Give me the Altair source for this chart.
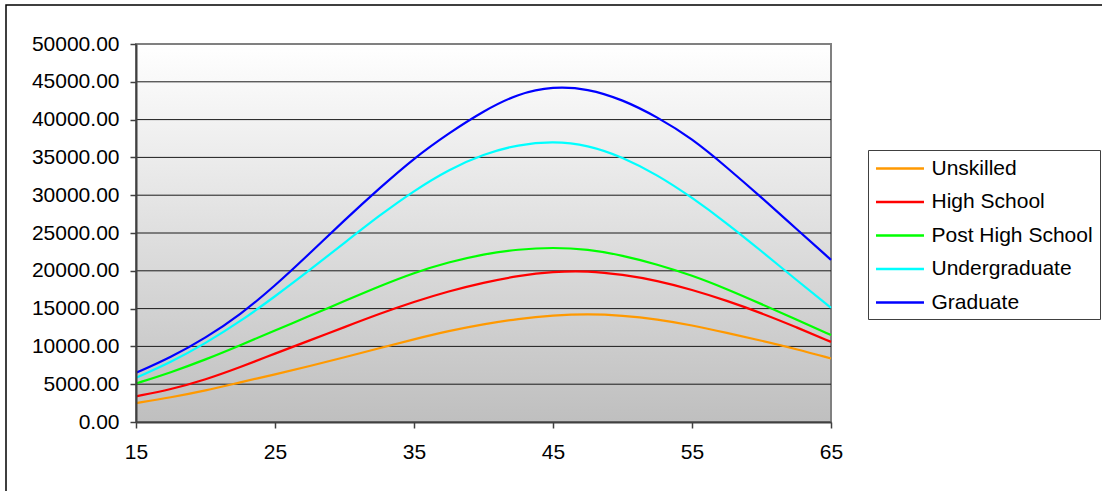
import altair as alt
import pandas as pd

ages = [15, 17.5, 20, 22.5, 25, 27.5, 30, 32.5, 35, 37.5, 40, 42.5, 45, 47.5, 50, 52.5, 55, 57.5, 60, 62.5, 65]

unskilled = [2500, 3250, 4150, 5250, 6300, 7400, 8550, 9750, 10950, 12050, 12950, 13650, 14100, 14300, 14100, 13600, 12800, 11800, 10750, 9650, 8400]
high_school = [3400, 4300, 5600, 7250, 9050, 10800, 12550, 14300, 15900, 17300, 18450, 19350, 19900, 20000, 19500, 18700, 17500, 16050, 14400, 12550, 10600]
post_high = [5100, 6550, 8250, 10150, 12100, 14050, 16000, 17950, 19750, 21150, 22200, 22850, 23100, 22850, 22050, 20850, 19400, 17600, 15600, 13550, 11500]
undergrad = [5850, 7900, 10400, 13300, 16600, 20100, 23700, 27300, 30600, 33400, 35450, 36700, 37150, 36650, 35050, 32700, 29700, 26300, 22600, 18800, 15100]
graduate = [6500, 8550, 11100, 14200, 18000, 22300, 26700, 30900, 34900, 38200, 41150, 43450, 44400, 44100, 42650, 40350, 37500, 33700, 29700, 25550, 21450]

series_names = ["Unskilled", "High School", "Post High School", "Undergraduate", "Graduate"]
series_colors = ["#FF9900", "#FF0000", "#00FF00", "#00FFFF", "#0000FF"]
series_values = [unskilled, high_school, post_high, undergrad, graduate]

x_ticks = [15, 25, 35, 45, 55, 65]
y_ticks = [0, 5000, 10000, 15000, 20000, 25000, 30000, 35000, 40000, 45000, 50000]

rows = []
for name, vals in zip(series_names, series_values):
    for a, v in zip(ages, vals):
        rows.append({"age": a, "value": v, "series": name})
df = pd.DataFrame(rows)

grid_df = pd.DataFrame({"value": y_ticks[1:-1]})
one = pd.DataFrame({"k": [0]})

FONT = "Liberation Sans"
W, H = 695, 378

xscale = alt.Scale(domain=[15, 65], nice=False, zero=False)
yscale = alt.Scale(domain=[0, 50000], nice=False, zero=False)

y_axis = alt.Axis(values=y_ticks, format=".2f", labelFontSize=21, labelFont=FONT,
                  labelColor="black", tickSize=6, tickColor="#404040", tickWidth=1.5,
                  domainColor="#404040", domainWidth=2, labelPadding=11, grid=False,
                  zindex=1)
x_axis = alt.Axis(values=x_ticks, format="d", labelFontSize=21, labelFont=FONT,
                  labelColor="black", tickSize=6, tickColor="#404040", tickWidth=1.5,
                  domainColor="#404040", domainWidth=2, labelPadding=13, grid=False,
                  zindex=1, labelFlush=False)

bg = alt.Chart(one).mark_rect(
    fill=alt.LinearGradient(
        gradient="linear",
        stops=[alt.GradientStop(offset=0, color="#ffffff"),
               alt.GradientStop(offset=1, color="#bfbfbf")],
        x1=0, x2=0, y1=0, y2=1),
    stroke="#808080", strokeWidth=2,
).encode(x=alt.value(0), x2=alt.value(W), y=alt.value(0), y2=alt.value(H))

grid = alt.Chart(grid_df).mark_rule(color="#1a1a1a", strokeWidth=1).encode(
    y=alt.Y("value:Q", scale=yscale, title=None, axis=y_axis)
)

lines = alt.Chart(df).mark_line(strokeWidth=2.2, interpolate="basis").encode(
    x=alt.X("age:Q", scale=xscale, title=None, axis=x_axis),
    y=alt.Y("value:Q", scale=yscale, title=None, axis=y_axis),
    color=alt.Color("series:N", scale=alt.Scale(domain=series_names, range=series_colors),
                    sort=series_names,
                    legend=alt.Legend(title=None, orient="none", legendX=732, legendY=106,
                                      symbolType="M-1,0H3.57", symbolSize=441,
                                      symbolStrokeWidth=2.5,
                                      labelFontSize=21, labelFont=FONT, labelColor="black",
                                      labelOffset=33, rowPadding=11.5, padding=6.5,
                                      strokeColor="#404040", fillColor="white",
                                      labelLimit=400)),
    order=alt.Order("series:N"),
)

border = alt.Chart(one).mark_rect(filled=False, stroke="black", strokeWidth=1.5).encode(
    x=alt.value(-130), x2=alt.value(1000), y=alt.value(-39), y2=alt.value(500)
)

chart = alt.layer(bg, grid, lines, border).properties(
    width=W, height=H,
    autosize=alt.AutoSizeParams(type="none"),
    padding={"left": 136, "top": 44, "right": 1102 - 136 - W, "bottom": 491 - 44 - H},
    background="white",
).configure_view(stroke=None)

chart.save("out.html", embed_options={"renderer": "svg", "actions": False})
